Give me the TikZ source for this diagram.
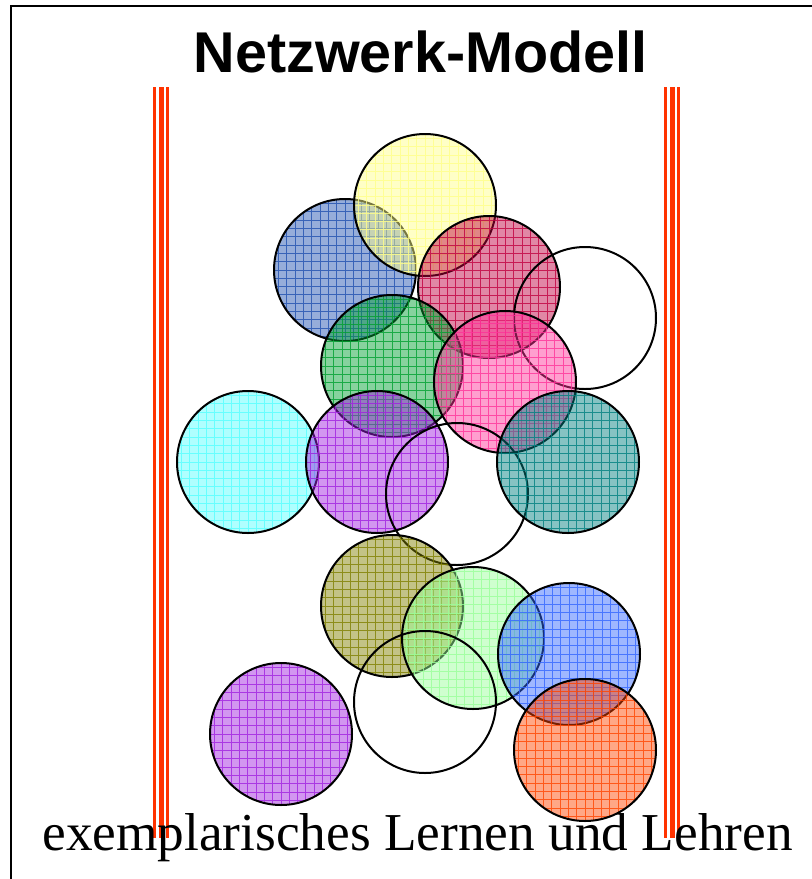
\documentclass[tikz,border=0pt]{standalone}
\usepackage{fontspec}
\setmainfont{Liberation Serif}
\newfontfamily\titlefont{Liberation Sans}
\usepackage{xcolor}
\usepackage{tikz}
\definecolor{railred}{HTML}{FF3300}
\definecolor{gelb}{HTML}{FFFF88}
\definecolor{blau}{HTML}{2050B0}
\definecolor{karmin}{HTML}{C0003F}
\definecolor{gruen}{HTML}{00A030}
\definecolor{rosa}{HTML}{FF3399}
\definecolor{tuerkis}{HTML}{55FFFF}
\definecolor{lila}{HTML}{A020E0}
\definecolor{petrol}{HTML}{008080}
\definecolor{oliv}{HTML}{808000}
\definecolor{hellgruen}{HTML}{99FF99}
\definecolor{himmel}{HTML}{3366FF}
\definecolor{orange}{HTML}{FF4400}
\tikzset{
  ball/.style={circle, draw=black, line width=2pt, minimum size=142pt,
    inner sep=0pt, fill=#1, fill opacity=0.47,
    path picture={\draw[#1, line width=0.9pt, draw opacity=0.8, step=8.3pt]
      (path picture bounding box.south west) grid
      (path picture bounding box.north east);}},
  ring/.style={circle, draw=black, line width=2pt, minimum size=142pt,
    inner sep=0pt},
  rail/.style={draw=railred, line width=#1}
}

\begin{document}
\begin{tikzpicture}[x=1pt, y=-1pt]
    \useasboundingbox (0,0) rectangle (812,879);

    \coordinate (TR) at (812, 6);
    \coordinate (TL) at (11, 6);
    \coordinate (BL) at (11, 879);

    \coordinate (Lt) at (161, 87);
    \coordinate (Lb) at (161, 838);
    \coordinate (Rt) at (672, 87);
    \coordinate (Rb) at (672, 838);

    \coordinate (Gelb) at (425, 205);
    \coordinate (Blau) at (345, 270);
    \coordinate (Karmin) at (489, 287);
    \coordinate (LeerA) at (585, 318);
    \coordinate (Gruen) at (392, 366);
    \coordinate (Rosa) at (505, 382);
    \coordinate (Tuerkis) at (248, 462);
    \coordinate (LilaA) at (377, 462);
    \coordinate (LeerB) at (457, 494);
    \coordinate (Petrol) at (568, 462);
    \coordinate (Oliv) at (392, 606);
    \coordinate (Hellgruen) at (473, 638);
    \coordinate (Himmel) at (569, 654);
    \coordinate (LeerC) at (425, 702);
    \coordinate (LilaB) at (281, 734);
    \coordinate (Orange) at (585, 750);

    \coordinate (Titel) at (420.5, 72);
    \coordinate (Fuss) at (417.5, 850);

    \draw[line width=1.5pt] (TR) -- (TL) -- (BL);

    \draw[rail=2.5pt] ([xshift=-6.5pt]Lt) -- ([xshift=-6.5pt]Lb);
    \draw[rail=5pt] (Lt) -- (Lb);
    \draw[rail=2.5pt] ([xshift=6.5pt]Lt) -- ([xshift=6.5pt]Lb);
    \draw[rail=2.5pt] ([xshift=-6.5pt]Rt) -- ([xshift=-6.5pt]Rb);
    \draw[rail=5pt] (Rt) -- (Rb);
    \draw[rail=2.5pt] ([xshift=6.5pt]Rt) -- ([xshift=6.5pt]Rb);

    \node[ball=blau] (blau) at (Blau) {};
    \node[ball=gelb] (gelb) at (Gelb) {};
    \node[ball=karmin] (karmin) at (Karmin) {};
    \node[ring] (leerA) at (LeerA) {};
    \node[ball=gruen] (gruen) at (Gruen) {};
    \node[ball=rosa] (rosa) at (Rosa) {};
    \node[ball=tuerkis] (tuerkis) at (Tuerkis) {};
    \node[ball=lila] (lilaA) at (LilaA) {};
    \node[ring] (leerB) at (LeerB) {};
    \node[ball=petrol] (petrol) at (Petrol) {};
    \node[ball=oliv] (oliv) at (Oliv) {};
    \node[ball=hellgruen] (hellgruen) at (Hellgruen) {};
    \node[ball=himmel] (himmel) at (Himmel) {};
    \node[ring] (leerC) at (LeerC) {};
    \node[ball=lila] (lilaB) at (LilaB) {};
    \node[ball=orange] (orange) at (Orange) {};

    \node[anchor=base, inner sep=0pt] (titel) at (Titel)
      {\titlefont\bfseries\fontsize{57.5}{60}\selectfont Netzwerk-Modell};
    \node[anchor=base, inner sep=0pt] (fuss) at (Fuss)
      {\fontsize{53.3}{56}\selectfont exemplarisches Lernen und Lehren};
\end{tikzpicture}
\end{document}
